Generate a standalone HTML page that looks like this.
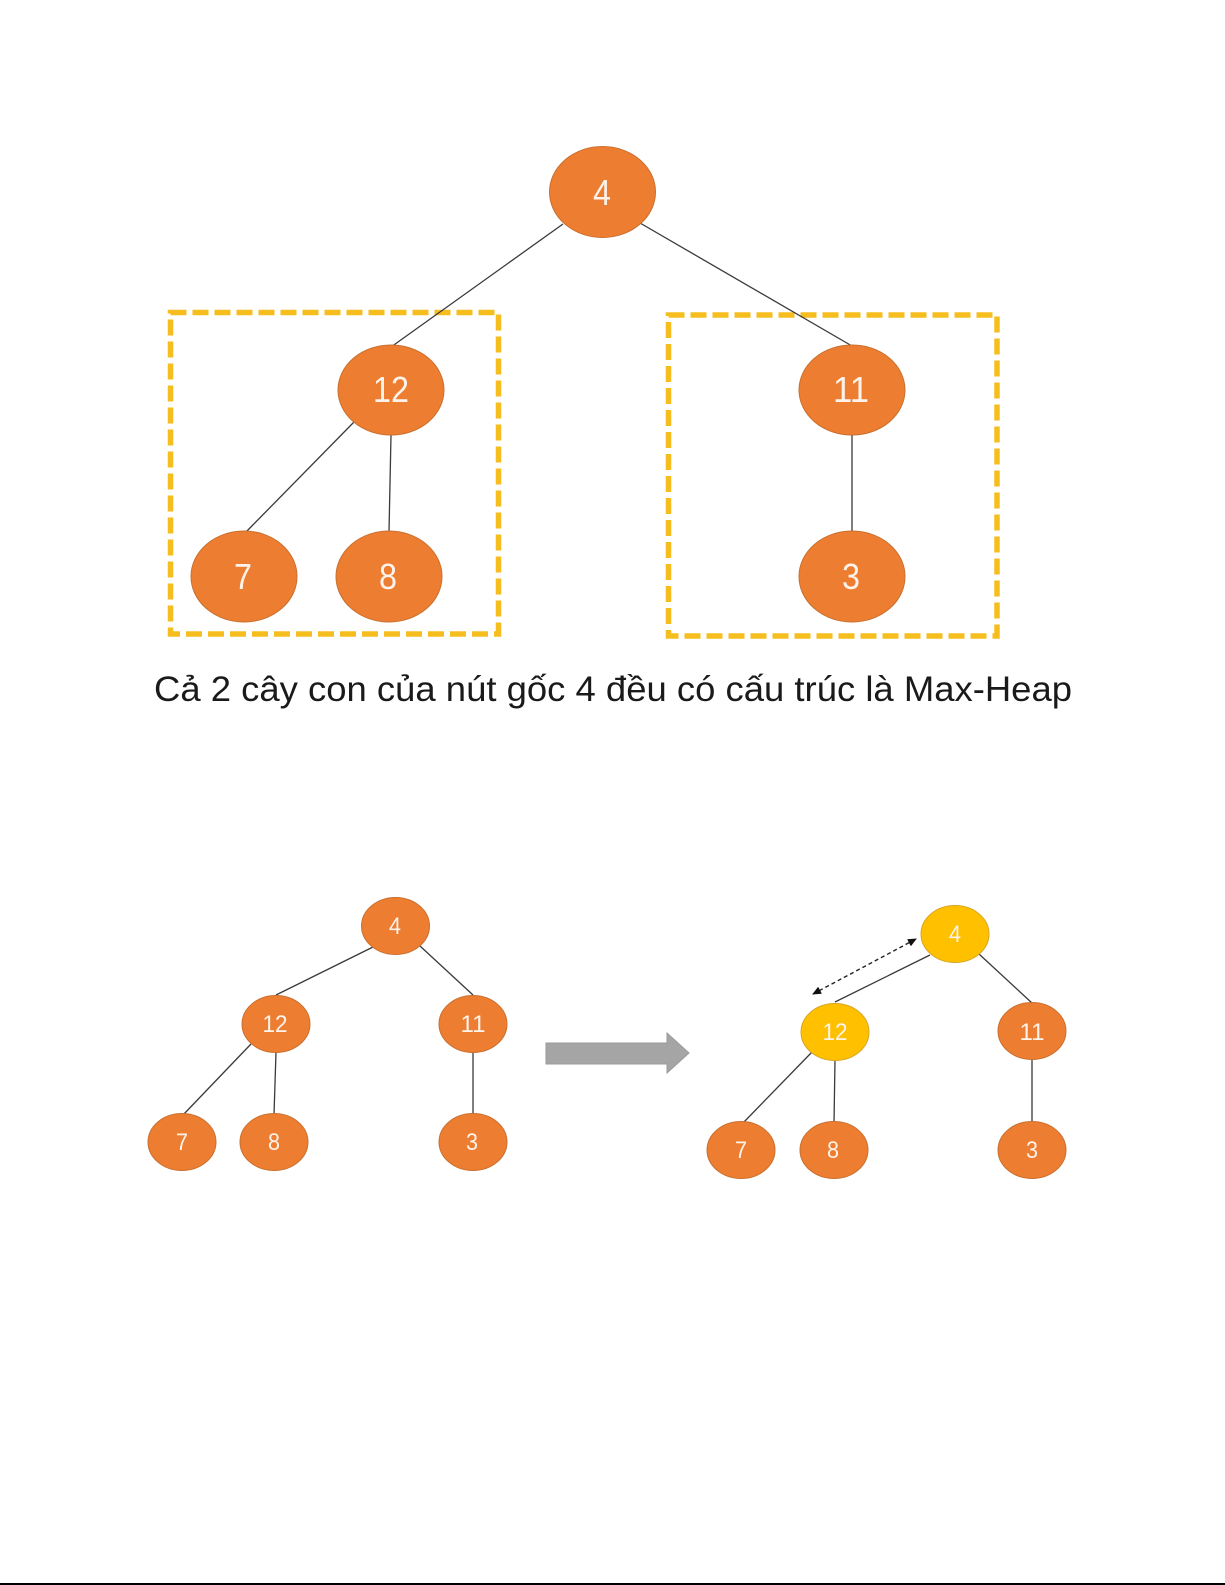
<!DOCTYPE html>
<html><head><meta charset="utf-8"><style>
html,body{margin:0;padding:0;background:#fff;width:1225px;height:1585px;overflow:hidden}
svg{display:block}
text{font-family:"Liberation Sans",sans-serif;fill:#fdf3ea;text-anchor:middle}
.o{fill:#ed7d31;stroke:#c9702f;stroke-width:1}
.y{fill:#ffc000;stroke:#d9a520;stroke-width:1}
.l{stroke:#3a3a3a;stroke-width:1.3;fill:none}
.d{fill:none;stroke:#f6bd1e;stroke-width:5.5;stroke-dasharray:16 6}
.b{font-size:36px}
.s{font-size:24px}
</style></head><body>
<svg width="1225" height="1585" viewBox="0 0 1225 1585" xmlns="http://www.w3.org/2000/svg">
<defs>
<marker id="ah" markerWidth="10" markerHeight="8" refX="8" refY="4" orient="auto-start-reverse" markerUnits="userSpaceOnUse"><path d="M0,0L9,4L0,8Z" fill="#111"/></marker>
</defs>
<rect x="170.5" y="312.5" width="328" height="321.5" class="d"/>
<rect x="668.5" y="315" width="328.5" height="321" class="d"/>
<g class="l">
<line x1="563" y1="224" x2="391" y2="347"/><line x1="640" y1="223" x2="852" y2="346"/>
<line x1="354" y1="422" x2="246" y2="532"/><line x1="391" y1="435" x2="389" y2="532"/>
<line x1="852" y1="435" x2="852" y2="532"/>
<line x1="373" y1="947" x2="276" y2="995"/><line x1="420" y1="946" x2="473" y2="995"/>
<line x1="251" y1="1044" x2="183" y2="1115"/><line x1="276" y1="1052" x2="274" y2="1115"/>
<line x1="473" y1="1052" x2="473" y2="1115"/>
<line x1="930" y1="955" x2="835" y2="1002"/><line x1="979" y1="954" x2="1032" y2="1003"/>
<line x1="812" y1="1052" x2="743" y2="1123"/><line x1="835" y1="1060" x2="834" y2="1123"/>
<line x1="1032" y1="1059" x2="1032" y2="1122"/>
</g>
<line x1="813" y1="994" x2="916" y2="939" stroke="#222" stroke-width="1.4" stroke-dasharray="4 3" marker-start="url(#ah)" marker-end="url(#ah)"/>
<g class="o">
<ellipse cx="602.5" cy="192" rx="53" ry="45.5"/>
<ellipse cx="391" cy="390" rx="53" ry="45"/>
<ellipse cx="852" cy="390" rx="53" ry="45"/>
<ellipse cx="244" cy="576.5" rx="53" ry="45.5"/>
<ellipse cx="389" cy="576.5" rx="53" ry="45.5"/>
<ellipse cx="852" cy="576.5" rx="53" ry="45.5"/>
<ellipse cx="395.5" cy="926" rx="34" ry="28.5"/>
<ellipse cx="276" cy="1024" rx="34" ry="28.5"/>
<ellipse cx="473" cy="1024" rx="34" ry="28.5"/>
<ellipse cx="182" cy="1142" rx="34" ry="28.5"/>
<ellipse cx="274" cy="1142" rx="34" ry="28.5"/>
<ellipse cx="473" cy="1142" rx="34" ry="28.5"/>
<ellipse cx="1032" cy="1031" rx="34" ry="28.5"/>
<ellipse cx="741" cy="1150" rx="34" ry="28.5"/>
<ellipse cx="834" cy="1150" rx="34" ry="28.5"/>
<ellipse cx="1032" cy="1150" rx="34" ry="28.5"/>
</g>
<g class="y">
<ellipse cx="955" cy="934" rx="34" ry="28.5"/>
<ellipse cx="835" cy="1032" rx="34" ry="28.5"/>
</g>
<polygon points="546,1043 667,1043 667,1033 689,1053 667,1073 667,1064 546,1064" fill="#a5a5a5" stroke="#9a9a9a" stroke-width="1"/>
<g class="b">
<text x="602" y="205" textLength="18" lengthAdjust="spacingAndGlyphs">4</text>
<text x="391" y="402" textLength="36" lengthAdjust="spacingAndGlyphs">12</text>
<text x="851" y="402" textLength="36" lengthAdjust="spacingAndGlyphs">11</text>
<text x="243" y="589" textLength="18" lengthAdjust="spacingAndGlyphs">7</text>
<text x="388" y="589" textLength="18" lengthAdjust="spacingAndGlyphs">8</text>
<text x="851" y="589" textLength="18" lengthAdjust="spacingAndGlyphs">3</text>
</g>
<g class="s">
<text x="395" y="934" textLength="12" lengthAdjust="spacingAndGlyphs">4</text>
<text x="275" y="1032" textLength="25" lengthAdjust="spacingAndGlyphs">12</text>
<text x="473" y="1032" textLength="25" lengthAdjust="spacingAndGlyphs">11</text>
<text x="182" y="1150" textLength="12" lengthAdjust="spacingAndGlyphs">7</text>
<text x="274" y="1150" textLength="12" lengthAdjust="spacingAndGlyphs">8</text>
<text x="472" y="1150" textLength="12" lengthAdjust="spacingAndGlyphs">3</text>
<text x="955" y="942" textLength="12" lengthAdjust="spacingAndGlyphs">4</text>
<text x="835" y="1040" textLength="25" lengthAdjust="spacingAndGlyphs">12</text>
<text x="1032" y="1040" textLength="25" lengthAdjust="spacingAndGlyphs">11</text>
<text x="741" y="1158" textLength="12" lengthAdjust="spacingAndGlyphs">7</text>
<text x="833" y="1158" textLength="12" lengthAdjust="spacingAndGlyphs">8</text>
<text x="1032" y="1158" textLength="12" lengthAdjust="spacingAndGlyphs">3</text>
</g>
<text x="613" y="701" textLength="918" lengthAdjust="spacingAndGlyphs" style="fill:#1a1a1a;font-size:35px">Cả 2 cây con của nút gốc 4 đều có cấu trúc là Max-Heap</text>
<rect x="0" y="1583" width="1225" height="2" fill="#000"/>
</svg>
</body></html>
